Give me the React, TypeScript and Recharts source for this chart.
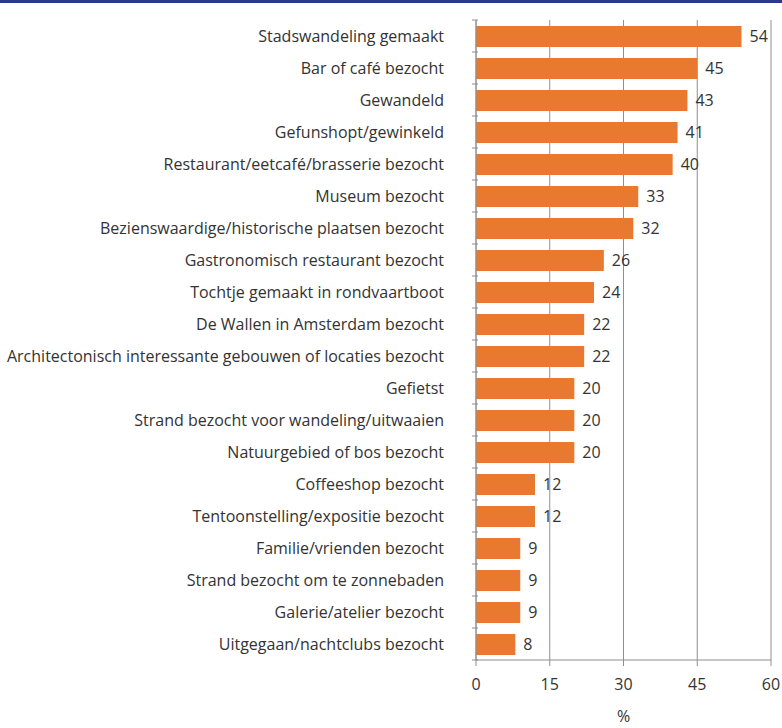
import React from 'react';
import { BarChart, Bar, XAxis, YAxis, CartesianGrid, LabelList } from 'recharts';

const categories = [
  'Stadswandeling gemaakt',
  'Bar of café bezocht',
  'Gewandeld',
  'Gefunshopt/gewinkeld',
  'Restaurant/eetcafé/brasserie bezocht',
  'Museum bezocht',
  'Bezienswaardige/historische plaatsen bezocht',
  'Gastronomisch restaurant bezocht',
  'Tochtje gemaakt in rondvaartboot',
  'De Wallen in Amsterdam bezocht',
  'Architectonisch interessante gebouwen of locaties bezocht',
  'Gefietst',
  'Strand bezocht voor wandeling/uitwaaien',
  'Natuurgebied of bos bezocht',
  'Coffeeshop bezocht',
  'Tentoonstelling/expositie bezocht',
  'Familie/vrienden bezocht',
  'Strand bezocht om te zonnebaden',
  'Galerie/atelier bezocht',
  'Uitgegaan/nachtclubs bezocht',
];
const values = [54, 45, 43, 41, 40, 33, 32, 26, 24, 22, 22, 20, 20, 20, 12, 12, 9, 9, 9, 8];
const xTicks = [0, 15, 30, 45, 60];

const data = categories.map((name, i) => ({ name, value: values[i] }));

const FONT = '"Open Sans", Lato, sans-serif';
const AXIS = '#8f8f8f';
const BAND = 640 / categories.length;

function CategoryTick(props: any) {
  const { x, y, payload, index } = props;
  const ax = x + 28;
  return (
    <g>
      <text x={x} y={y} dy="0.355em" textAnchor="end" fontFamily={FONT} fontSize={16} fill="#333">
        {payload.value}
      </text>
      <line x1={ax} x2={ax + 6} y1={y - BAND / 2} y2={y - BAND / 2} stroke={AXIS} />
      {index === categories.length - 1 && (
        <line x1={ax} x2={ax + 6} y1={y + BAND / 2} y2={y + BAND / 2} stroke={AXIS} />
      )}
    </g>
  );
}

export default function App() {
  return (
    <div style={{ position: 'fixed', left: 0, top: 0, width: 782, height: 728, background: '#fff' }}>
      <div style={{ position: 'absolute', left: 0, top: 0, width: 782, height: 3, background: '#283b86' }} />
      <BarChart
        width={782}
        height={728}
        data={data}
        layout="vertical"
        margin={{ top: 20, right: 11, bottom: 0, left: 0 }}
        barSize={21}
      >
        <CartesianGrid horizontal={false} stroke={AXIS} strokeDasharray="" />
        <XAxis
          type="number"
          domain={[0, 60]}
          ticks={xTicks}
          interval={0}
          stroke={AXIS}
          tickSize={6}
          tickMargin={13}
          height={68}
          tick={{ fill: '#333', fontSize: 16, fontFamily: FONT }}
          label={{ value: '%', position: 'insideBottom', offset: 6, fill: '#333', fontSize: 16, fontFamily: FONT }}
        />
        <YAxis
          type="category"
          dataKey="name"
          width={476}
          stroke={AXIS}
          tickLine={false}
          tickSize={0}
          tickMargin={32}
          interval={0}
          tick={<CategoryTick />}
        />
        <Bar dataKey="value" fill="#e8792f" isAnimationActive={false}>
          <LabelList dataKey="value" position="right" offset={8} fill="#333" fontSize={16} fontFamily={FONT} />
        </Bar>
      </BarChart>
    </div>
  );
}
